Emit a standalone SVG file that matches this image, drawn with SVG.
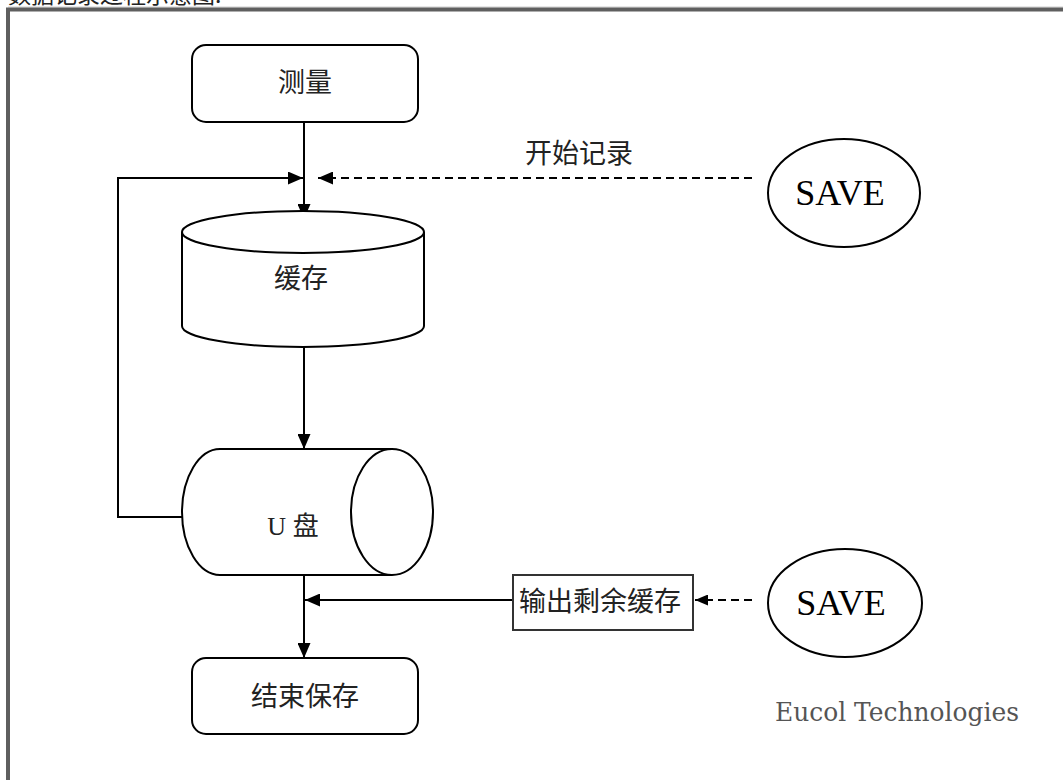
<svg xmlns="http://www.w3.org/2000/svg" width="1063" height="780" viewBox="0 0 1063 780">
<style>
.shape{fill:#fff;stroke:#000;stroke-width:2}
.line{fill:none;stroke:#000;stroke-width:2}
.dash{fill:none;stroke:#000;stroke-width:2;stroke-dasharray:8 5}
.cjk{font-family:"Noto Sans CJK SC","Liberation Serif",sans-serif;font-size:27px;fill:#222;text-anchor:middle}
.save{font-family:"Liberation Serif",serif;font-size:36px;fill:#000;text-anchor:middle}
</style>
<defs>
<marker id="arr" viewBox="0 0 15 13" refX="15" refY="6.5" markerWidth="15" markerHeight="13" markerUnits="userSpaceOnUse" orient="auto">
<path d="M0,0 L15,6.5 L0,13 Z" fill="#000"/>
</marker>
<marker id="arrs" viewBox="0 0 13 11" refX="13" refY="5.5" markerWidth="13" markerHeight="11" markerUnits="userSpaceOnUse" orient="auto">
<path d="M0,0 L13,5.5 L0,11 Z" fill="#000"/>
</marker>
</defs>
<rect width="1063" height="780" fill="#fff"/>
<text x="8" y="3" font-family="Noto Sans CJK SC, sans-serif" font-size="23" fill="#222">数据记录过程示意图:</text>
<line x1="8" y1="7" x2="1063" y2="7" stroke="#ccc" stroke-width="1"/>
<path d="M8,782 V9.5 H1065" fill="none" stroke="#5f5f5f" stroke-width="4"/>

<g id="connectors">
<line class="line" x1="304" y1="122" x2="304" y2="219" marker-end="url(#arr)"/>
<polyline class="line" points="182,517 118,517 118,178 303,178" marker-end="url(#arr)"/>
<line class="dash" x1="752" y1="178" x2="318" y2="178" marker-end="url(#arr)"/>
<line class="line" x1="304" y1="347" x2="304" y2="449" marker-end="url(#arr)"/>
<line class="line" x1="304" y1="575" x2="304" y2="658" marker-end="url(#arr)"/>
<line class="line" x1="513" y1="600" x2="305" y2="600" marker-end="url(#arr)"/>
<line class="dash" x1="752" y1="600" x2="695" y2="600" marker-end="url(#arrs)"/>
</g>

<g id="node-measure">
<rect class="shape" x="192" y="45" width="226" height="77" rx="14"/>
<text class="cjk" x="305" y="92">测量</text>
</g>

<g id="node-cache">
<path class="shape" d="M182,232 V326 A121,21 0 0 0 424,326 V232"/>
<ellipse class="shape" cx="303" cy="232" rx="121" ry="21"/>
<text class="cjk" x="301" y="288">缓存</text>
</g>

<g id="node-udisk">
<path class="shape" d="M392,449 H220 A38,63 0 0 0 220,575 H392"/>
<ellipse class="shape" cx="392" cy="512" rx="41" ry="63"/>
<text x="293" y="535" text-anchor="middle" font-size="26" fill="#222"><tspan font-family="Liberation Serif, serif">U </tspan><tspan font-family="Noto Sans CJK SC, sans-serif">盘</tspan></text>
</g>

<g id="node-end">
<rect class="shape" x="192" y="658" width="226" height="76" rx="14"/>
<text class="cjk" x="305" y="706">结束保存</text>
</g>

<g id="node-save1">
<ellipse class="shape" cx="844" cy="193" rx="76" ry="54"/>
<text class="save" x="840" y="205">SAVE</text>
</g>

<g id="label-start">
<text class="cjk" x="579" y="163">开始记录</text>
</g>

<g id="node-output">
<rect x="513" y="575" width="180" height="55" fill="#fff" stroke="#333" stroke-width="2"/>
<text class="cjk" x="600" y="611">输出剩余缓存</text>
</g>

<g id="node-save2">
<ellipse class="shape" cx="845" cy="603" rx="77" ry="54"/>
<text class="save" x="841" y="615">SAVE</text>
</g>

<text x="897" y="721" text-anchor="middle" font-family="DejaVu Serif, serif" font-size="26" fill="#555" textLength="244" lengthAdjust="spacingAndGlyphs">Eucol Technologies</text>
</svg>
